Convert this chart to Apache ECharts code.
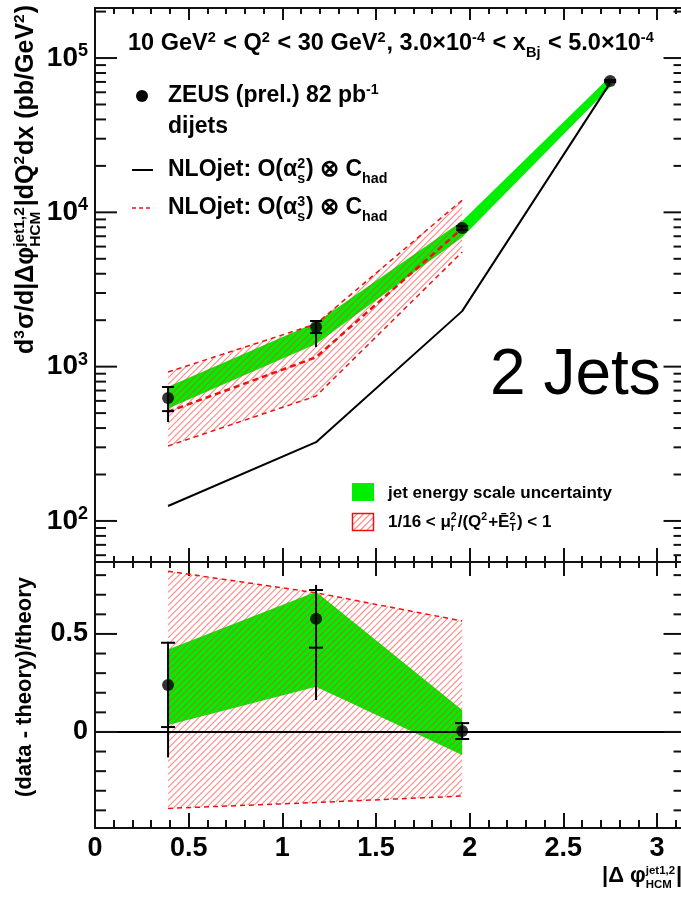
<!DOCTYPE html>
<html><head><meta charset="utf-8">
<script src="https://cdn.jsdelivr.net/npm/echarts@6/dist/echarts.min.js"></script>
<style>html,body{margin:0;padding:0;background:#fff}#c{width:681px;height:899px}</style>
</head><body><div id="c"></div>
<script>
// ---------------- data ----------------
const xBins      = [0.39, 1.18, 1.96, 2.75];
const dataXS     = [627, 1808, 7910, 71000];
const dataStatHi = [738, 1977, 8150, 72000];
const dataStatLo = [515, 1651, 7680, 70000];
const dataTotHi  = [745, 2000, 8160, 72000];
const dataTotLo  = [438, 1340, 7670, 70000];
const nlo2       = [125, 324, 2290, 69000];
const xNlo3      = [0.39, 1.18, 1.96];
const nlo3       = [510, 1150, 7870];
const nlo3Hi     = [923, 1890, 12000];
const nlo3Lo     = [306, 645, 5535];
const jesHi      = [740, 1930, 8800, 76000];
const jesLo      = [535, 1400, 6900, 65000];

const ratioX       = [0.39, 1.18, 1.96];
const ratio        = [0.24, 0.577, 0.005];
const ratioStatHi  = [0.455, 0.724, 0.045];
const ratioStatLo  = [0.025, 0.43, -0.036];
const ratioTotHi   = [0.46, 0.75, 0.05];
const ratioTotLo   = [-0.13, 0.163, -0.04];
const ratioJesHi   = [0.42, 0.715, 0.112];
const ratioJesLo   = [0.035, 0.23, -0.117];
const ratioScaleHi = [0.82, 0.71, 0.566];
const ratioScaleLo = [-0.39, -0.36, -0.327];

const xTickLabels = [0, 0.5, 1, 1.5, 2, 2.5, 3];
const yTopLabels  = [100, 1000, 10000, 100000];
const yBotLabels  = [0, 0.5];
const yTopMinor   = [60,70,80,90, 200,300,400,500,600,700,800,900,
                     2000,3000,4000,5000,6000,7000,8000,9000,
                     20000,30000,40000,50000,60000,70000,80000,90000, 200000];
const yBotMinor   = [-0.4,-0.3,-0.2,-0.1,0.1,0.2,0.3,0.4,0.6,0.7,0.8];

const FRAME_X = Math.PI;           // right frame of the original plot
const X_MAX = 3.5;
const PX_PER_UNIT = 187.33;
const FONT = '"Liberation Sans", Arial, Helvetica, sans-serif';
const GREEN = '#00ee00';
const RED = '#ee1111';
const HATCH_COLOR = '#ff3a3a';
const HATCH_OPACITY = 0.6;

// ---------------- helpers ----------------
const mctx = document.createElement('canvas').getContext('2d');
function mathText(tokens, o) {
  const S = o.size, wt = o.weight || 'bold', col = o.color || '#000';
  const f = s => `${wt} ${s}px ${FONT}`;
  const sm = S * (o.small || 0.62), up = S * 0.40, dn = S * 0.24;
  const kids = []; let x = 0;
  const w = (t, s) => { mctx.font = f(s); return mctx.measureText(t).width; };
  const put = (t, s, base, px) => kids.push({type: 'text', x: px, y: base - 0.3465 * s,
    style: {text: t, font: f(s), fill: col, align: 'left', verticalAlign: 'middle'}});
  tokens.forEach(tk => {
    if (typeof tk === 'string') { put(tk, S, 0, x); x += w(tk, S); }
    else {
      let ww = 0;
      if (tk.sup) { put(tk.sup, sm, -up, x); ww = Math.max(ww, w(tk.sup, sm)); }
      if (tk.sub) { put(tk.sub, sm, dn, x); ww = Math.max(ww, w(tk.sub, sm)); }
      x += ww + 1;
    }
  });
  const off = o.align === 'right' ? -x : (o.align === 'center' ? -x / 2 : 0);
  kids.forEach(k => { k.x += off; });
  return {type: 'group', x: o.x, y: o.y, rotation: o.rotation || 0, silent: true, children: kids};
}
// diagonal hatch segments clipped to a polygon (pixel space)
function hatchSegments(pts, step) {
  let minS = Infinity, maxS = -Infinity;
  pts.forEach(p => { const s = p[0] + p[1]; minS = Math.min(minS, s); maxS = Math.max(maxS, s); });
  const segs = [];
  const start = Math.ceil(minS / step) * step;
  for (let c = start; c <= maxS; c += step) {
    const xs = [];
    for (let i = 0; i < pts.length; i++) {
      const a = pts[i], b = pts[(i + 1) % pts.length];
      const fa = a[0] + a[1] - c, fb = b[0] + b[1] - c;
      if ((fa < 0 && fb >= 0) || (fa >= 0 && fb < 0)) {
        const t = fa / (fa - fb);
        xs.push(a[0] + t * (b[0] - a[0]));
      }
    }
    xs.sort((u, v) => u - v);
    for (let k = 0; k + 1 < xs.length; k += 2) segs.push([xs[k], c - xs[k], xs[k + 1], c - xs[k + 1]]);
  }
  return segs;
}
function hatchPathData(pts, step) {
  return hatchSegments(pts, step).map(s =>
    `M${s[0].toFixed(2)} ${s[1].toFixed(2)}L${s[2].toFixed(2)} ${s[3].toFixed(2)}`).join('');
}

function bandSeries(xi, yi, xs, lo, hi, kind, z) {
  return {type: 'custom', xAxisIndex: xi, yAxisIndex: yi, silent: true, z: z,
    data: xs.map((x, i) => [x, lo[i], hi[i]]), encode: {x: 0, y: [1, 2]},
    renderItem: (params, api) => {
      if (params.dataIndex !== 0) return null;
      const pts = [];
      xs.forEach((x, i) => pts.push(api.coord([x, hi[i]])));
      for (let i = xs.length - 1; i >= 0; i--) pts.push(api.coord([xs[i], lo[i]]));
      if (kind === 'hatch') {
        return {type: 'path', shape: {pathData: hatchPathData(pts, 6.5)},
          style: {fill: null, stroke: HATCH_COLOR, lineWidth: 1.1, opacity: HATCH_OPACITY}};
      }
      return {type: 'polygon', shape: {points: pts}, style: {fill: GREEN, stroke: null}};
    }};
}
function errSeries(xi, yi, xs, c, sh, sl, th, tl, capW) {
  return {type: 'custom', xAxisIndex: xi, yAxisIndex: yi, silent: true, z: 9,
    data: xs.map((x, i) => [x, c[i], sh[i], sl[i], th[i], tl[i]]), encode: {x: 0, y: [1, 2, 3, 4, 5]},
    renderItem: (params, api) => {
      const x = api.value(0);
      const pSH = api.coord([x, api.value(2)]), pSL = api.coord([x, api.value(3)]);
      const pTH = api.coord([x, api.value(4)]), pTL = api.coord([x, api.value(5)]);
      const st = {stroke: '#000', lineWidth: 2};
      return {type: 'group', children: [
        {type: 'line', shape: {x1: pTH[0], y1: Math.min(pTH[1], pSH[1]), x2: pTL[0], y2: Math.max(pTL[1], pSL[1])}, style: st},
        {type: 'line', shape: {x1: pSH[0] - capW, y1: pSH[1], x2: pSH[0] + capW, y2: pSH[1]}, style: st},
        {type: 'line', shape: {x1: pSL[0] - capW, y1: pSL[1], x2: pSL[0] + capW, y2: pSL[1]}, style: st}
      ]};
    }};
}
function tickSeries(xi, yi, major, minor) {
  const d = major.map(v => [0, v, 1]).concat(minor.map(v => [0, v, 0]));
  return {type: 'custom', xAxisIndex: xi, yAxisIndex: yi, silent: true, z: 20,
    data: d, encode: {x: 0, y: 1},
    renderItem: (params, api) => {
      const v = api.value(1), mj = api.value(2);
      const L = api.coord([0, v]), R = api.coord([FRAME_X, v]);
      const ll = mj ? 22 : 11, rl = mj ? 20 : 10;
      const st = {stroke: '#111', lineWidth: 2};
      return {type: 'group', children: [
        {type: 'line', shape: {x1: L[0], y1: L[1], x2: L[0] + ll, y2: L[1]}, style: st},
        {type: 'line', shape: {x1: R[0], y1: R[1], x2: R[0] - rl, y2: R[1]}, style: st}
      ]};
    }};
}
function dashLine(xi, yi, xs, ys, width, dash, z) {
  return {type: 'line', xAxisIndex: xi, yAxisIndex: yi, silent: true, z: z, symbol: 'none',
    data: xs.map((x, i) => [x, ys[i]]),
    lineStyle: {color: RED, width: width, type: dash}};
}
function xAxisDef(grid, pos, major, minor, labels) {
  return {type: 'value', gridIndex: grid, position: pos, min: 0, max: X_MAX, interval: 0.5,
    axisLine: {show: true, onZero: false, lineStyle: {color: '#111', width: 2}},
    axisTick: {show: true, inside: true, length: major, lineStyle: {color: '#111', width: 2}},
    minorTick: {show: true, splitNumber: 5, length: minor, lineStyle: {color: '#111', width: 2}},
    splitLine: {show: false}, minorSplitLine: {show: false},
    axisLabel: labels ? {show: true, customValues: xTickLabels, margin: 7, color: '#000',
      fontFamily: FONT, fontWeight: 'bold', fontSize: 27} : {show: false}};
}

// legend hatch box as plain graphic lines
const LEG_BOX = [352.5, 513.5, 21, 17];
const legendHatch = hatchSegments([[LEG_BOX[0], LEG_BOX[1]], [LEG_BOX[0] + LEG_BOX[2], LEG_BOX[1]],
  [LEG_BOX[0] + LEG_BOX[2], LEG_BOX[1] + LEG_BOX[3]], [LEG_BOX[0], LEG_BOX[1] + LEG_BOX[3]]], 6.5)
  .map(s => ({type: 'line', silent: true, shape: {x1: s[0], y1: s[1], x2: s[2], y2: s[3]},
    style: {stroke: HATCH_COLOR, lineWidth: 1.1, opacity: HATCH_OPACITY}}));

// ---------------- chart ----------------
const chart = echarts.init(document.getElementById('c'), null, {renderer: 'canvas'});
const GW = X_MAX * PX_PER_UNIT;
const option = {
  animation: false,
  backgroundColor: '#fff',
  grid: [
    {left: 95, top: 8, width: GW, height: 554, outerBoundsMode: 'none', containLabel: false},
    {left: 95, top: 562, width: GW, height: 266, outerBoundsMode: 'none', containLabel: false}
  ],
  xAxis: [
    xAxisDef(0, 'bottom', 14, 6, false),
    xAxisDef(0, 'top', 12, 6, false),
    xAxisDef(1, 'bottom', 15, 8, true),
    xAxisDef(1, 'top', 14, 6, false)
  ],
  yAxis: [
    {type: 'log', logBase: 10, gridIndex: 0, position: 'left', min: 54.2, max: 211000,
      axisLine: {show: true, lineStyle: {color: '#111', width: 2}},
      axisTick: {show: false}, splitLine: {show: false},
      axisLabel: {show: true, customValues: yTopLabels, margin: 7,
        formatter: v => '{b|10}{s|' + Math.round(Math.log10(v)) + '}',
        rich: {b: {fontFamily: FONT, fontWeight: 'bold', fontSize: 28, color: '#000', lineHeight: 32},
               s: {fontFamily: FONT, fontWeight: 'bold', fontSize: 18, color: '#000', lineHeight: 17, verticalAlign: 'top'}}}},
    {type: 'value', gridIndex: 1, position: 'left', min: -0.49, max: 0.867,
      axisLine: {show: true, onZero: false, lineStyle: {color: '#111', width: 2}},
      axisTick: {show: false}, splitLine: {show: false},
      axisLabel: {show: true, customValues: yBotLabels, margin: 7, color: '#000',
        fontFamily: FONT, fontWeight: 'bold', fontSize: 27}}
  ],
  series: [
    // ---- top panel ----
    bandSeries(0, 0, xBins, jesLo, jesHi, 'solid', 2),
    bandSeries(0, 0, xNlo3, nlo3Lo, nlo3Hi, 'hatch', 3),
    dashLine(0, 0, xNlo3, nlo3Hi, 1.5, [5, 4], 4),
    dashLine(0, 0, xNlo3, nlo3Lo, 1.5, [5, 4], 4),
    dashLine(0, 0, xNlo3, nlo3, 2.5, [6, 4], 5),
    {type: 'line', xAxisIndex: 0, yAxisIndex: 0, silent: true, z: 6, symbol: 'none',
      data: xBins.map((x, i) => [x, nlo2[i]]), lineStyle: {color: '#000', width: 2}},
    errSeries(0, 0, xBins, dataXS, dataStatHi, dataStatLo, dataTotHi, dataTotLo, 6),
    {type: 'scatter', xAxisIndex: 0, yAxisIndex: 0, silent: true, z: 10, symbolSize: 12,
      itemStyle: {color: '#000'}, data: xBins.map((x, i) => [x, dataXS[i]])},
    tickSeries(0, 0, yTopLabels, yTopMinor),
    // ---- bottom panel ----
    bandSeries(2, 1, ratioX, ratioJesLo, ratioJesHi, 'solid', 2),
    bandSeries(2, 1, ratioX, ratioScaleLo, ratioScaleHi, 'hatch', 3),
    dashLine(2, 1, ratioX, ratioScaleHi, 1.5, [5, 4], 4),
    dashLine(2, 1, ratioX, ratioScaleLo, 1.5, [5, 4], 4),
    {type: 'line', xAxisIndex: 2, yAxisIndex: 1, silent: true, z: 6, symbol: 'none', data: [],
      markLine: {silent: true, symbol: ['none', 'none'], label: {show: false},
        lineStyle: {color: '#000', width: 2, type: 'solid'}, data: [{yAxis: 0}]}},
    errSeries(2, 1, ratioX, ratio, ratioStatHi, ratioStatLo, ratioTotHi, ratioTotLo, 7),
    {type: 'scatter', xAxisIndex: 2, yAxisIndex: 1, silent: true, z: 10, symbolSize: 12,
      itemStyle: {color: '#000'}, data: ratioX.map((x, i) => [x, ratio[i]])},
    tickSeries(2, 1, yBotLabels, yBotMinor)
  ],
  graphic: [
    mathText(['10 GeV', {sup: '2'}, ' < Q', {sup: '2'}, ' < 30 GeV', {sup: '2'}, ', 3.0×10', {sup: '-4'},
              ' < x', {sub: 'Bj'}, ' < 5.0×10', {sup: '-4'}], {x: 128, y: 52, size: 23.5}),
    {type: 'circle', shape: {cx: 142, cy: 96, r: 6}, style: {fill: '#000'}, silent: true},
    mathText(['ZEUS (prel.) 82 pb', {sup: '-1'}], {x: 168, y: 104, size: 23}),
    mathText(['dijets'], {x: 168, y: 135, size: 23}),
    {type: 'line', shape: {x1: 132, y1: 170, x2: 153, y2: 170}, style: {stroke: '#000', lineWidth: 2}, silent: true},
    mathText(['NLOjet: O(α', {sup: '2', sub: 's'}, ') ⊗ C', {sub: 'had'}], {x: 168, y: 178, size: 23}),
    {type: 'line', shape: {x1: 132, y1: 208, x2: 153, y2: 208}, style: {stroke: RED, lineWidth: 1.5, lineDash: [4, 3]}, silent: true},
    mathText(['NLOjet: O(α', {sup: '3', sub: 's'}, ') ⊗ C', {sub: 'had'}], {x: 168, y: 216, size: 23}),
    {type: 'rect', shape: {x: 352, y: 483, width: 22, height: 18}, style: {fill: GREEN}, silent: true},
    mathText(['jet energy scale uncertainty'], {x: 388, y: 499, size: 17}),
    ...legendHatch,
    {type: 'rect', shape: {x: LEG_BOX[0], y: LEG_BOX[1], width: LEG_BOX[2], height: LEG_BOX[3]},
      style: {fill: null, stroke: RED, lineWidth: 1.5}, silent: true},
    mathText(['1/16 < μ', {sup: '2', sub: 'r'}, '/(Q', {sup: '2'}, '+Ē', {sup: '2', sub: 'T'}, ') < 1'], {x: 388, y: 528, size: 17}),
    mathText(['2 Jets'], {x: 490, y: 399, size: 64, weight: 'normal'}),
    mathText(['d', {sup: '3'}, 'σ/d|Δφ', {sup: 'jet1,2', sub: 'HCM'}, '|dQ', {sup: '2'}, 'dx (pb/GeV', {sup: '2'}, ')'],
             {x: 35, y: 5, size: 25, align: 'right', rotation: Math.PI / 2}),
    mathText(['(data - theory)/theory'], {x: 33, y: 577, size: 22, align: 'right', rotation: Math.PI / 2}),
    mathText(['|Δ φ', {sup: 'jet1,2', sub: 'HCM'}, '|'], {x: 602, y: 884, size: 22, small: 0.52})
  ]
};
chart.setOption(option);
</script>
</body></html>
